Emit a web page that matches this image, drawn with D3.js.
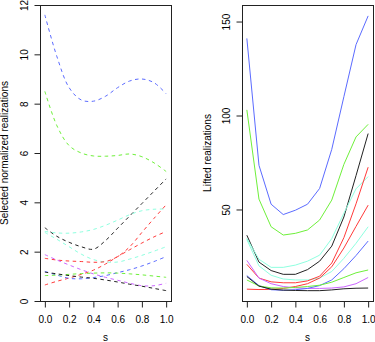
<!DOCTYPE html>
<html><head><meta charset="utf-8">
<script src="https://cdn.jsdelivr.net/npm/d3@7"></script>
<style>body{margin:0;background:#fff}svg{display:block}text{font-family:"Liberation Sans",Arial,sans-serif;font-size:10px;fill:#000}</style>
</head><body>
<svg id="c" width="375" height="342"></svg>
<script>
const sGrid = [0, 0.1, 0.2, 0.3, 0.4, 0.5, 0.6, 0.7, 0.8, 0.9, 1.0];
const xTicks = [0, 0.2, 0.4, 0.6, 0.8, 1.0];
const leftYTicks = [0, 2, 4, 6, 8, 10, 12];
const rightYTicks = [50, 100, 150];

// Left panel: selected normalized realizations (dashed)
const leftNames = ["blueHi","greenHi","blackA","cyanA","cyanB","redA","redB","purple","blueLo","greenLo","blackLo"];
const leftBlueHi  = [11.6, 9.9, 8.65, 8.15, 8.1, 8.3, 8.65, 8.92, 9.0, 8.85, 8.4];
const leftGreenHi = [8.5, 7.1, 6.3, 6.0, 5.88, 5.87, 5.9, 5.96, 5.85, 5.6, 5.25];
const leftBlackA  = [2.97, 2.62, 2.38, 2.2, 2.1, 2.45, 2.95, 3.45, 3.95, 4.45, 4.95];
const leftCyanA   = [2.82, 2.76, 2.75, 2.8, 2.9, 3.07, 3.28, 3.5, 3.66, 3.72, 3.73];
const leftCyanB   = [2.78, 2.5, 2.2, 1.9, 1.68, 1.58, 1.58, 1.7, 1.85, 2.02, 2.2];
const leftRedA    = [1.73, 1.66, 1.62, 1.6, 1.57, 1.6, 1.8, 2.2, 2.78, 3.35, 3.9];
const leftRedB    = [0.65, 0.8, 0.93, 1.08, 1.25, 1.5, 1.8, 2.08, 2.35, 2.6, 2.82];
const leftPurple  = [1.88, 1.66, 1.46, 1.27, 1.1, 0.96, 0.84, 0.72, 0.62, 0.62, 0.72];
const leftBlueLo  = [1.2, 1.05, 0.92, 0.9, 0.95, 1.03, 1.15, 1.27, 1.42, 1.6, 1.8];
const leftGreenLo = [1.03, 1.05, 1.08, 1.11, 1.13, 1.14, 1.13, 1.1, 1.06, 1.01, 0.96];
const leftBlackLo = [1.17, 1.1, 1.03, 0.97, 0.92, 0.85, 0.77, 0.68, 0.6, 0.51, 0.42];

// Right panel: lifted realizations (solid)
const rightBlueHi  = [141, 73.5, 52.8, 47.3, 49.6, 52.8, 61.2, 82, 110, 137.7, 153];
const rightGreenHi = [103, 55.5, 40.8, 36.4, 37.3, 39.1, 44.4, 55, 74, 88.6, 95.3];
const rightBlackA  = [36.3, 22, 17.5, 15.5, 15.5, 18, 22.5, 30.5, 46, 68, 90.4];
const rightCyanA   = [34.6, 23.5, 19.2, 19.2, 20.4, 22.5, 25.7, 34.5, 48, 61, 67.5];
const rightCyanB   = [34, 20, 15, 13, 12.5, 12.5, 13.5, 17, 24, 32, 40.8];
const rightRedA    = [20.8, 13.5, 11.5, 11, 11, 12, 14.5, 21.5, 35, 53, 72.5];
const rightRedB    = [7.6, 7.4, 7.5, 8, 9, 10.5, 13.5, 19.5, 29.5, 41, 52.3];
const rightPurple  = [22.9, 13.5, 10.5, 9, 8.3, 8, 8, 8.2, 8.8, 10.5, 13.8];
const rightBlueLo  = [14.8, 9.5, 7.3, 7, 7.3, 8, 9.5, 12.5, 18.5, 25.5, 33.2];
const rightGreenLo = [12.5, 9.3, 8.3, 8.2, 8.5, 9, 9.7, 11.3, 13.8, 16.3, 17.8];
const rightBlackLo = [14.3, 9.2, 7.6, 7.1, 6.9, 6.8, 6.8, 7.2, 7.8, 8.1, 8.2];

const lineColors = ["#5b6bff","#6ef03a","#222222","#8effe0","#8effe0","#ff3a3a","#ff3a3a","#cc66ff","#5b6bff","#6ef03a","#222222"];

const leftSeries  = [leftBlueHi,leftGreenHi,leftBlackA,leftCyanA,leftCyanB,leftRedA,leftRedB,leftPurple,leftBlueLo,leftGreenLo,leftBlackLo];
const rightSeries = [rightBlueHi,rightGreenHi,rightBlackA,rightCyanA,rightCyanB,rightRedA,rightRedB,rightPurple,rightBlueLo,rightGreenLo,rightBlackLo];

const svg = d3.select("#c");

function panel(opts){
  const {x0,x1,y0,y1,yDomain,yTicks,series,dashed,curve,ylab,ylabX,yTickLabX} = opts;
  const x = d3.scaleLinear().domain([-0.04,1.04]).range([x0,x1]);
  const y = d3.scaleLinear().domain(yDomain).range([y1,y0]);
  const g = svg.append("g");
  const line = d3.line().x((d,i)=>x(sGrid[i])).y(d=>y(d)).curve(curve);
  const clip = "clip"+x0;
  svg.append("clipPath").attr("id",clip).append("rect").attr("x",x0).attr("y",y0).attr("width",x1-x0).attr("height",y1-y0);
  const lg = g.append("g").attr("clip-path","url(#"+clip+")");
  series.forEach((s,i)=>{
    lg.append("path").attr("d",line(s)).attr("fill","none")
      .attr("stroke",lineColors[i]).attr("stroke-width",1)
      .attr("stroke-dasharray",dashed?"3.5,3.5":null);
  });
  // box
  g.append("rect").attr("x",x0+0.5).attr("y",y0+0.5).attr("width",x1-x0).attr("height",y1-y0)
    .attr("fill","none").attr("stroke","#222").attr("stroke-width",1);
  // x axis
  const xa = g.append("g").attr("transform",`translate(0,${y1+0.5})`)
    .call(d3.axisBottom(x).tickValues(xTicks).tickSize(6).tickPadding(6).tickFormat(d3.format(".1f")));
  xa.select(".domain").attr("d",`M${x(0)},0H${x(1)}`).attr("stroke","#222");
  xa.selectAll(".tick line").attr("stroke","#222");
  xa.selectAll(".tick text").attr("font-size",10).attr("font-family","Liberation Sans, Arial, sans-serif").attr("dy",null).attr("y",null)
    .attr("transform","translate(0,21)");
  // y axis
  const ya = g.append("g").attr("transform",`translate(${x0+0.5},0)`)
    .call(d3.axisLeft(y).tickValues(yTicks).tickSize(6).tickFormat(d3.format("d")));
  ya.select(".domain").attr("d",`M0,${y(yTicks[0])}V${y(yTicks[yTicks.length-1])}`).attr("stroke","#222");
  ya.selectAll(".tick line").attr("stroke","#222");
  ya.selectAll(".tick text").attr("x",null).attr("dy",null).attr("text-anchor","middle")
    .attr("font-size",10).attr("font-family","Liberation Sans, Arial, sans-serif")
    .attr("transform",`translate(${yTickLabX - x0},0) rotate(-90)`);
  // labels
  g.append("text").attr("transform",`translate(${ylabX},${(y0+y1)/2}) rotate(-90)`).attr("text-anchor","middle").text(ylab);
  g.append("text").attr("x",(x0+x1)/2).attr("y",341).attr("text-anchor","middle").text("s");
}

panel({x0:40,x1:171,y0:5,y1:301,yDomain:[0,12],yTicks:leftYTicks,series:leftSeries,dashed:true,
  curve:d3.curveCatmullRom,ylab:"Selected normalized realizations",ylabX:8,yTickLabX:27});
panel({x0:242,x1:373,y0:5,y1:301,yDomain:[1.3,158.8],yTicks:rightYTicks,series:rightSeries,dashed:false,
  curve:d3.curveLinear,ylab:"Lifted realizations",ylabX:211,yTickLabX:229.5});
</script>
</body></html>
